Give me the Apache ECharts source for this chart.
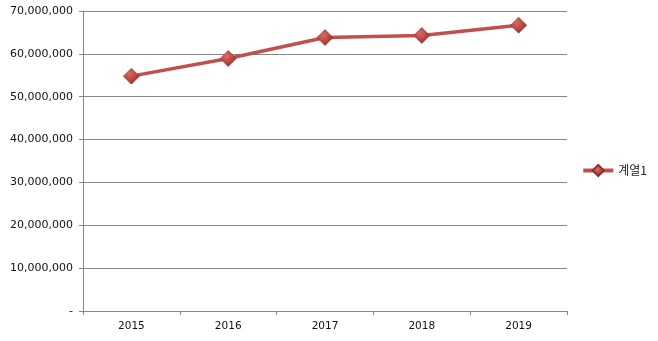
<!DOCTYPE html>
<html><head><meta charset="utf-8">
<script src="https://cdn.jsdelivr.net/npm/echarts@6/dist/echarts.min.js"></script>
<style>html,body{margin:0;padding:0;background:#fff}#c{width:658px;height:341px}</style>
</head><body><div id="c"></div>
<script>
const categories = ['2015','2016','2017','2018','2019'];
const seriesName = '계열1';
const values = [54800000, 58900000, 63800000, 64300000, 66700000];
const yMin = 0, yMax = 70000000, yStep = 10000000;

const chart = echarts.init(document.getElementById('c'));
const red = '#c0504d';
const markerFill = new echarts.graphic.RadialGradient(0.4, 0.35, 0.75, [
  {offset: 0, color: '#d96a66'}, {offset: 0.55, color: '#b8443f'}, {offset: 1, color: '#7e2522'}
]);
chart.setOption({
  animation: false,
  grid: {left: 83, right: 91, top: 11, bottom: 30},
  legend: {
    right: 6, top: 'middle', orient: 'vertical',
    itemWidth: 30, itemHeight: 14, itemGap: 4,
    textStyle: {fontFamily: 'Noto Sans CJK KR', fontSize: 12, color: '#222'},
    lineStyle: {width: 4, color: red},
    data: [seriesName]
  },
  xAxis: {
    type: 'category', data: categories, boundaryGap: true,
    axisLine: {lineStyle: {color: '#868686', width: 1}},
    axisTick: {show: true, length: 4, lineStyle: {color: '#868686'}},
    axisLabel: {color: '#111', fontFamily: 'DejaVu Sans', fontSize: 10.5, margin: 10}
  },
  yAxis: {
    type: 'value', min: yMin, max: yMax, interval: yStep,
    axisLine: {show: true, lineStyle: {color: '#868686'}},
    axisTick: {show: true, length: 4, lineStyle: {color: '#868686'}},
    splitLine: {lineStyle: {color: '#868686', width: 1}},
    axisLabel: {
      color: '#111', fontFamily: 'DejaVu Sans', fontSize: 11, margin: 10,
      formatter: v => v === 0 ? '-' : v.toLocaleString('en-US')
    }
  },
  series: [{
    name: seriesName, type: 'line', data: values,
    symbol: 'diamond', symbolSize: 16,
    lineStyle: {color: red, width: 3.5},
    itemStyle: {color: markerFill, borderColor: '#8c2f2c', borderWidth: 0.6},
    z: 3
  }]
});
</script></body></html>
